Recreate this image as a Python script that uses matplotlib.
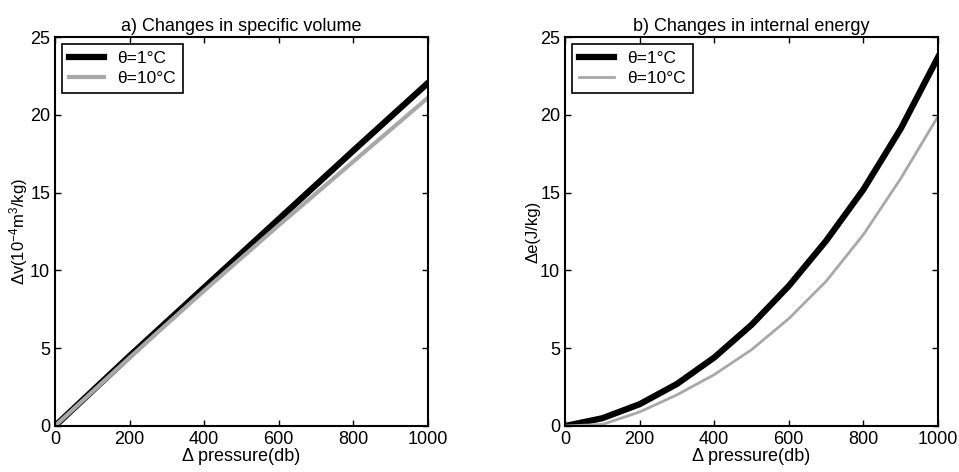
import matplotlib
matplotlib.use("Agg")
import matplotlib.pyplot as plt

plt.rcParams["font.family"] = ["Liberation Sans", "DejaVu Sans"]
plt.rcParams["mathtext.fontset"] = "custom"
plt.rcParams["mathtext.rm"] = "Liberation Sans"
plt.rcParams["mathtext.it"] = "Liberation Sans"

# pressure change (db)
p_vol = [0, 200, 400, 600, 800, 1000]
dv_1c = [0, 4.5, 8.9, 13.3, 17.7, 22.05]
dv_10c = [0, 4.4, 8.7, 12.9, 17.0, 21.1]

p_en = [0, 100, 200, 300, 400, 500, 600, 700, 800, 900, 1000]
de_1c = [0, 0.5, 1.4, 2.7, 4.4, 6.5, 9.0, 11.9, 15.2, 19.1, 23.7]
de_10c = [0, 0.1, 0.9, 2.0, 3.3, 4.9, 6.9, 9.3, 12.3, 15.9, 19.9]

titles = ["a) Changes in specific volume", "b) Changes in internal energy"]
ylabels = [r"Δv(10$^{-4}$m$^3$/kg)", "Δe(J/kg)"]
leg_labels = ["θ=1°C", "θ=10°C"]

fig = plt.figure(figsize=(9.59, 4.72), dpi=100)
ax1 = fig.add_axes([55 / 959, 46 / 472, 373 / 959, 389 / 472])
ax2 = fig.add_axes([565 / 959, 46 / 472, 373 / 959, 389 / 472])

ax1.plot(p_vol, dv_1c, color="black", lw=4.5, label=leg_labels[0])
ax1.plot(p_vol, dv_10c, color="#a8a8a8", lw=3, label=leg_labels[1])
ax2.plot(p_en, de_1c, color="black", lw=4.5, label=leg_labels[0])
ax2.plot(p_en, de_10c, color="#a8a8a8", lw=2, label=leg_labels[1])

for ax, title, ylab in zip([ax1, ax2], titles, ylabels):
    ax.set_xlim(0, 1000)
    ax.set_ylim(0, 25)
    ax.set_xticks([0, 200, 400, 600, 800, 1000])
    ax.set_yticks([0, 5, 10, 15, 20, 25])
    ax.tick_params(direction="in", top=True, right=True, labelsize=13, length=4, width=1)
    for s in ax.spines.values():
        s.set_linewidth(1.5)
    ax.set_title(title, fontsize=13, pad=4)
    ax.set_xlabel("Δ pressure(db)", fontsize=13, labelpad=0)
    ax.set_ylabel(ylab, fontsize=12, labelpad=0)
    leg = ax.legend(loc="upper left", fontsize=12.5, fancybox=False, framealpha=1,
                    edgecolor="black", handlelength=2.0, borderaxespad=0.4,
                    labelspacing=0.3, borderpad=0.4)
    leg.get_frame().set_linewidth(1.2)

fig.savefig("out.png", dpi=100, facecolor="white")
